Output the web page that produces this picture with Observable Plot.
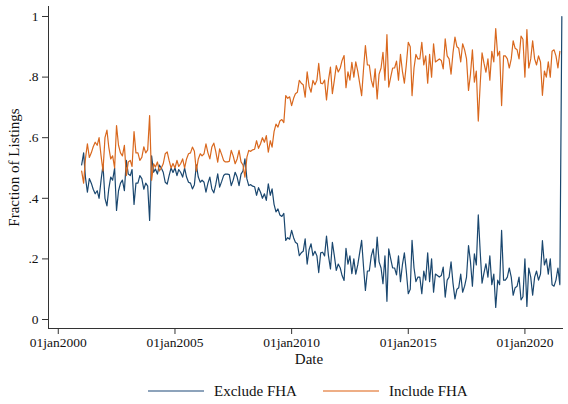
<!DOCTYPE html>
<html>
<head>
<meta charset="utf-8">
<script src="https://cdn.jsdelivr.net/npm/d3@7"></script>
<script src="https://cdn.jsdelivr.net/npm/@observablehq/plot@0.6"></script>
<style>
  body { margin: 0; background: #fff; font-family: "Liberation Serif", "Times New Roman", serif; }
  #chart { position: relative; width: 568px; height: 404px; }
  .legend { position: absolute; left: 148px; top: 381px; display: flex; align-items: center; font-size: 15px; color: #111; line-height: 20px; }
  .legend .item { display: flex; align-items: center; }
  .legend .item + .item { margin-left: 26px; }
  .legend .sw { display: inline-block; width: 56px; height: 2px; margin-right: 10px; }
</style>
</head>
<body>
<div id="chart"></div>
<script>
// Monthly series, January 2001 onward
const seriesNames = ["Exclude FHA", "Include FHA"];
const seriesColors = ["#1a476f", "#d9681e"];
const legendColors = ["#8da3bb", "#eeae86"];
const startYear = 2001;

const includeFHA = [
  0.49, 0.45, 0.53, 0.58, 0.535, 0.55, 0.57, 0.585, 0.575, 0.60,
  0.54, 0.49, 0.60, 0.625, 0.57, 0.53, 0.54, 0.50, 0.64, 0.575,
  0.55, 0.54, 0.575, 0.475, 0.52, 0.525, 0.505, 0.62, 0.55, 0.55,
  0.525, 0.535, 0.57, 0.55, 0.56, 0.673, 0.46, 0.514, 0.503, 0.52,
  0.49, 0.50, 0.514, 0.547, 0.553, 0.525, 0.50, 0.515, 0.50, 0.525,
  0.505, 0.515, 0.53, 0.50, 0.53, 0.547, 0.55, 0.569, 0.555, 0.49,
  0.53, 0.547, 0.54, 0.547, 0.58, 0.55, 0.53, 0.569, 0.582, 0.555,
  0.519, 0.563, 0.545, 0.525, 0.52, 0.52, 0.522, 0.558, 0.54, 0.514,
  0.53, 0.558, 0.52, 0.51, 0.47, 0.536, 0.558, 0.555, 0.56, 0.562,
  0.59, 0.565, 0.58, 0.60, 0.585, 0.607, 0.552, 0.59, 0.569, 0.62,
  0.645, 0.635, 0.655, 0.66, 0.65, 0.739, 0.73, 0.735, 0.706, 0.73,
  0.745, 0.75, 0.789, 0.78, 0.775, 0.734, 0.817, 0.77, 0.75, 0.789,
  0.775, 0.79, 0.845, 0.78, 0.778, 0.79, 0.725, 0.79, 0.833, 0.745,
  0.79, 0.838, 0.817, 0.83, 0.855, 0.871, 0.765, 0.817, 0.79, 0.849,
  0.80, 0.85, 0.82, 0.78, 0.739, 0.83, 0.904, 0.84, 0.84, 0.79,
  0.767, 0.827, 0.728, 0.81, 0.83, 0.882, 0.79, 0.94, 0.767, 0.80,
  0.83, 0.83, 0.853, 0.79, 0.875, 0.82, 0.78, 0.84, 0.915, 0.90,
  0.739, 0.83, 0.875, 0.86, 0.86, 0.915, 0.84, 0.87, 0.78, 0.875,
  0.80, 0.91, 0.85, 0.855, 0.86, 0.855, 0.827, 0.926, 0.87, 0.86,
  0.81, 0.88, 0.932, 0.90, 0.895, 0.85, 0.91, 0.89, 0.86, 0.756,
  0.81, 0.89, 0.783, 0.82, 0.655, 0.78, 0.88, 0.845, 0.816, 0.86,
  0.79, 0.885, 0.85, 0.96, 0.87, 0.885, 0.706, 0.87, 0.87, 0.86,
  0.83, 0.86, 0.92, 0.895, 0.89, 0.86, 0.935, 0.925, 0.80, 0.957,
  0.83, 0.86, 0.92, 0.86, 0.84, 0.87, 0.85, 0.74, 0.82, 0.80,
  0.85, 0.80, 0.885, 0.89, 0.87, 0.83, 0.885
];

const excludeFHA = [
  0.51, 0.55, 0.47, 0.42, 0.465, 0.45, 0.43, 0.415, 0.425, 0.40,
  0.46, 0.51, 0.40, 0.375, 0.43, 0.47, 0.46, 0.50, 0.36, 0.425,
  0.45, 0.46, 0.425, 0.525, 0.48, 0.475, 0.495, 0.38, 0.45, 0.45,
  0.475, 0.465, 0.43, 0.45, 0.44, 0.327, 0.54, 0.486, 0.497, 0.48,
  0.51, 0.50, 0.486, 0.453, 0.447, 0.475, 0.50, 0.485, 0.50, 0.475,
  0.495, 0.485, 0.47, 0.50, 0.47, 0.453, 0.45, 0.431, 0.445, 0.51,
  0.47, 0.453, 0.46, 0.453, 0.42, 0.45, 0.47, 0.431, 0.418, 0.445,
  0.481, 0.437, 0.455, 0.475, 0.48, 0.48, 0.478, 0.442, 0.46, 0.486,
  0.47, 0.442, 0.48, 0.49, 0.53, 0.464, 0.442, 0.445, 0.44, 0.438,
  0.41, 0.435, 0.42, 0.40, 0.415, 0.393, 0.448, 0.41, 0.431, 0.38,
  0.355, 0.365, 0.345, 0.34, 0.35, 0.261, 0.27, 0.265, 0.294, 0.27,
  0.255, 0.25, 0.211, 0.22, 0.225, 0.266, 0.183, 0.23, 0.25, 0.211,
  0.225, 0.21, 0.155, 0.22, 0.222, 0.21, 0.275, 0.21, 0.167, 0.255,
  0.21, 0.162, 0.183, 0.17, 0.145, 0.129, 0.235, 0.183, 0.21, 0.151,
  0.20, 0.15, 0.18, 0.22, 0.261, 0.17, 0.096, 0.16, 0.16, 0.21,
  0.233, 0.173, 0.272, 0.19, 0.17, 0.118, 0.21, 0.06, 0.233, 0.20,
  0.17, 0.17, 0.147, 0.21, 0.125, 0.18, 0.22, 0.16, 0.085, 0.10,
  0.261, 0.17, 0.125, 0.14, 0.14, 0.085, 0.16, 0.13, 0.22, 0.125,
  0.20, 0.09, 0.15, 0.145, 0.14, 0.145, 0.173, 0.074, 0.13, 0.14,
  0.19, 0.12, 0.068, 0.10, 0.105, 0.15, 0.09, 0.11, 0.14, 0.244,
  0.19, 0.11, 0.217, 0.18, 0.345, 0.22, 0.12, 0.155, 0.184, 0.14,
  0.21, 0.115, 0.15, 0.04, 0.13, 0.115, 0.294, 0.13, 0.13, 0.14,
  0.17, 0.14, 0.08, 0.105, 0.11, 0.14, 0.065, 0.075, 0.20, 0.043,
  0.17, 0.14, 0.08, 0.14, 0.16, 0.13, 0.15, 0.26, 0.18, 0.20,
  0.15, 0.20, 0.115, 0.11, 0.13, 0.17, 0.115, 1.0
];

const xTickYears = [2000, 2005, 2010, 2015, 2020];
const yTickValues = [0, 0.2, 0.4, 0.6, 0.8, 1];

// Long-format table for the line mark
const rows = [];
[excludeFHA, includeFHA].forEach((values, s) => {
  values.forEach((v, i) => {
    rows.push({ date: new Date(Date.UTC(startYear, i, 1)), value: v, series: seriesNames[s] });
  });
});

const xTicks = xTickYears.map(y => new Date(Date.UTC(y, 0, 1)));
const xDomain = [new Date(Date.UTC(1999, 7, 1)), new Date(Date.UTC(2021, 7, 27))];
const yDomain = [-0.0297, 1.033];
const axisColor = "#333";
const tickFont = 13.5;
const titleFont = 15;

const fmtY = d => d === 0 ? "0" : d === 1 ? "1" : d3.format(".1f")(d).replace(/^0/, "");

const chart = Plot.plot({
  width: 568,
  height: 370,
  marginLeft: 48,
  marginRight: 5,
  marginTop: 6,
  marginBottom: 42,
  style: { fontFamily: "'Liberation Serif', 'Times New Roman', serif", fontSize: "13.5px", color: "#111", background: "#fff" },
  x: { type: "utc", domain: xDomain },
  y: { domain: yDomain },
  color: { domain: seriesNames, range: seriesColors },
  marks: [
    Plot.ruleX([xDomain[0]], { stroke: axisColor, strokeWidth: 1 }),
    Plot.ruleY([yDomain[0]], { stroke: axisColor, strokeWidth: 1 }),
    Plot.axisX(xTicks, {
      anchor: "bottom", tickSize: 6, tickPadding: 3, stroke: axisColor, label: null,
      fontSize: tickFont, tickFormat: d => "01jan" + d.getUTCFullYear()
    }),
    Plot.axisY(yTickValues, {
      anchor: "left", tickSize: 6, tickPadding: 4, stroke: axisColor, label: null,
      fontSize: tickFont, tickFormat: fmtY
    }),
    Plot.lineY(rows, { x: "date", y: "value", z: "series", stroke: "series", strokeWidth: 1.2 }),
    Plot.text(["Fraction of Listings"], {
      text: d => d, frameAnchor: "left", textAnchor: "middle", lineAnchor: "middle",
      dx: -34, rotate: -90, fontSize: titleFont, fill: "#111"
    }),
    Plot.text(["Date"], {
      text: d => d, frameAnchor: "bottom", textAnchor: "middle", lineAnchor: "middle",
      dy: 31, dx: 3, fontSize: titleFont, fill: "#111"
    })
  ]
});

const root = document.getElementById("chart");
root.appendChild(chart);

// Legend below the plot
const legend = document.createElement("div");
legend.className = "legend";
seriesNames.forEach((name, i) => {
  const item = document.createElement("span");
  item.className = "item";
  const sw = document.createElement("span");
  sw.className = "sw";
  sw.style.background = legendColors[i];
  const label = document.createElement("span");
  label.textContent = name;
  item.appendChild(sw);
  item.appendChild(label);
  legend.appendChild(item);
});
root.appendChild(legend);
</script>
</body>
</html>
